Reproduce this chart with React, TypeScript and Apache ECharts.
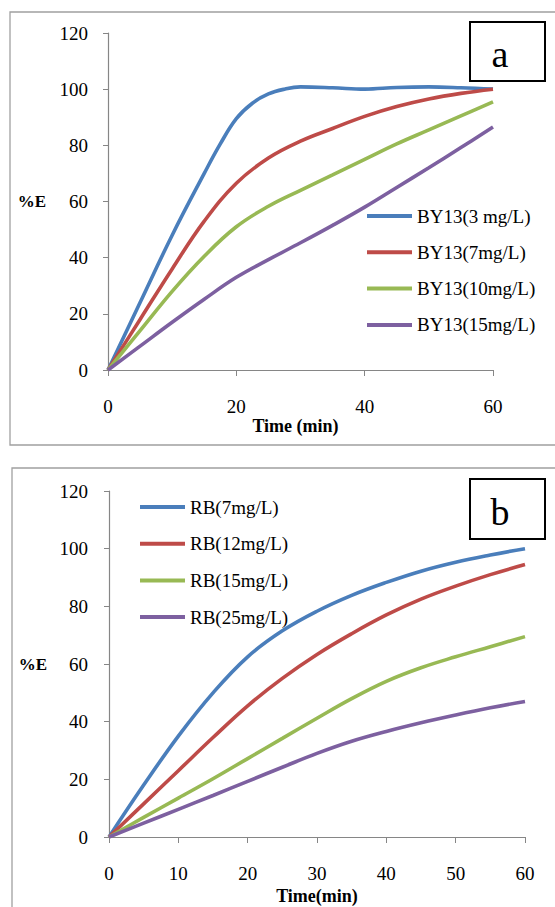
import React, { useEffect, useRef } from "react";
import * as echarts from "echarts";

const timeA3 = [0, 5, 10, 15, 17.5, 20, 22.5, 25, 27.5, 30, 35, 40, 45, 50, 55, 60];
const by13_3 = [0, 24, 48, 70, 80.5, 89.5, 95, 98.3, 100, 100.8, 100.5, 100, 100.6, 100.8, 100.5, 100];
const timeA = [0, 5, 10, 15, 20, 25, 30, 35, 40, 45, 50, 55, 60];
const by13_7 = [0, 18, 36, 53, 66.5, 75.5, 81.5, 86, 90.3, 93.8, 96.5, 98.5, 100];
const by13_10 = [0, 14, 28, 40.5, 51, 58.3, 64, 69.5, 75, 80.5, 85.5, 90.5, 95.5];
const by13_15 = [0, 8.5, 17, 25.2, 33, 39.3, 45.3, 51.5, 58, 65, 72, 79.2, 86.5];

const timeB = [0, 5, 10, 15, 20, 25, 30, 35, 40, 45, 50, 55, 60];
const rb7 = [0, 18, 35, 50, 62.5, 71.5, 78.3, 83.8, 88.3, 92.2, 95.3, 97.8, 100];
const rb12 = [0, 11.5, 23, 34.5, 45.5, 55, 63.3, 70.5, 77, 82.5, 87, 91, 94.5];
const rb15 = [0, 6.8, 13.5, 20.2, 27.2, 34.2, 41.2, 48, 54, 58.7, 62.5, 66, 69.5];
const rb25 = [0, 4.8, 9.6, 14.4, 19.3, 24.2, 29, 33.2, 36.6, 39.6, 42.3, 44.8, 47];

const namesA = ["BY13(3 mg/L)", "BY13(7mg/L)", "BY13(10mg/L)", "BY13(15mg/L)"];
const namesB = ["RB(7mg/L)", "RB(12mg/L)", "RB(15mg/L)", "RB(25mg/L)"];
const colors = ["#4a7ebb", "#be4b48", "#98b954", "#7d60a0"];

const FONT = "'Liberation Serif', 'Times New Roman', serif";

export default function App() {
  const ref = useRef<HTMLDivElement>(null);
  useEffect(() => {
    if (!ref.current) return;
    const chart = echarts.init(ref.current, undefined, { renderer: "svg" });
    const axisLine = { show: true, lineStyle: { color: "#868686", width: 1.2 } };
    const labelStyle = { color: "#000", fontFamily: FONT, fontSize: 19 };
    const nameStyleX = { color: "#000", fontFamily: FONT, fontSize: 18, fontWeight: "bold" as const };
    const mk = (data: number[], xs: number[]) => data.map((v, i) => [xs[i], v]);
    const dataA = [mk(by13_3, timeA3), mk(by13_7, timeA), mk(by13_10, timeA), mk(by13_15, timeA)];
    const seriesA = dataA.map((d, i) => ({
      name: namesA[i],
      type: "line",
      xAxisIndex: 0,
      yAxisIndex: 0,
      data: d,
      smooth: 0.4,
      showSymbol: false,
      color: colors[i],
      lineStyle: { width: 3.6, color: colors[i] },
    }));
    const seriesB = [rb7, rb12, rb15, rb25].map((d, i) => ({
      name: namesB[i],
      type: "line",
      xAxisIndex: 1,
      yAxisIndex: 1,
      data: mk(d, timeB),
      smooth: 0.4,
      showSymbol: false,
      color: colors[i],
      lineStyle: { width: 3.6, color: colors[i] },
    }));
    chart.setOption({
      animation: false,
      backgroundColor: "#fff",
      grid: [
        { left: 108, top: 33, width: 385, height: 337 },
        { left: 109, top: 491, width: 416, height: 346 },
      ],
      xAxis: [
        {
          type: "value", gridIndex: 0, min: 0, max: 60, interval: 20,
          axisLine, axisTick: { show: true, length: 6, lineStyle: { color: "#868686" } },
          splitLine: { show: false }, axisLabel: { ...labelStyle, margin: 27 },
          name: "Time (min)", nameLocation: "middle", nameGap: 46,
          nameTextStyle: { ...nameStyleX, padding: [0, 10, 0, 0] },
        },
        {
          type: "value", gridIndex: 1, min: 0, max: 60, interval: 10,
          axisLine, axisTick: { show: true, length: 6, lineStyle: { color: "#868686" } },
          splitLine: { show: false }, axisLabel: { ...labelStyle, margin: 27 },
          name: "Time(min)", nameLocation: "middle", nameGap: 50,
          nameTextStyle: nameStyleX,
        },
      ],
      yAxis: [
        {
          type: "value", gridIndex: 0, min: 0, max: 120, interval: 20,
          axisLine, axisTick: { show: true, length: 5, lineStyle: { color: "#868686" } },
          splitLine: { show: false }, axisLabel: { ...labelStyle, margin: 20 },
          name: "%E", nameLocation: "middle", nameRotate: 0, nameGap: 62,
          nameTextStyle: { ...nameStyleX, fontSize: 17 },
        },
        {
          type: "value", gridIndex: 1, min: 0, max: 120, interval: 20,
          axisLine, axisTick: { show: true, length: 5, lineStyle: { color: "#868686" } },
          splitLine: { show: false }, axisLabel: { ...labelStyle, margin: 21 },
          name: "%E", nameLocation: "middle", nameRotate: 0, nameGap: 62,
          nameTextStyle: { ...nameStyleX, fontSize: 17 },
        },
      ],
      legend: [
        {
          data: namesA, orient: "vertical", left: 367, top: 206, padding: 0,
          itemWidth: 45, itemHeight: 4, itemGap: 16.3, icon: "rect", selectedMode: false,
          textStyle: { color: "#000", fontFamily: FONT, fontSize: 19, lineHeight: 20 },
        },
        {
          data: namesB, orient: "vertical", left: 140, top: 497, padding: 0,
          itemWidth: 45, itemHeight: 4, itemGap: 16.7, icon: "rect", selectedMode: false,
          textStyle: { color: "#000", fontFamily: FONT, fontSize: 19, lineHeight: 20 },
        },
      ],
      graphic: [
        { type: "rect", shape: { x: 10, y: 12, width: 560, height: 433 }, style: { fill: "none", stroke: "#a0a0a0", lineWidth: 1.3 }, silent: true },
        { type: "rect", shape: { x: 12, y: 468, width: 560, height: 460 }, style: { fill: "none", stroke: "#a0a0a0", lineWidth: 1.3 }, silent: true },
        { type: "rect", shape: { x: 470, y: 22, width: 75, height: 59 }, style: { fill: "#fff", stroke: "#000", lineWidth: 2 } },
        { type: "text", x: 500, y: 54, style: { text: "a", fontFamily: FONT, fontSize: 38, fill: "#000", align: "center", verticalAlign: "middle" } },
        { type: "rect", shape: { x: 470, y: 479, width: 75, height: 60 }, style: { fill: "#fff", stroke: "#000", lineWidth: 2 } },
        { type: "text", x: 500, y: 512, style: { text: "b", fontFamily: FONT, fontSize: 38, fill: "#000", align: "center", verticalAlign: "middle" } },
      ],
      series: [...seriesA, ...seriesB],
    });
    return () => chart.dispose();
  }, []);
  return <div ref={ref} style={{ position: "absolute", left: 0, top: 0, width: 555, height: 907 }} />;
}
